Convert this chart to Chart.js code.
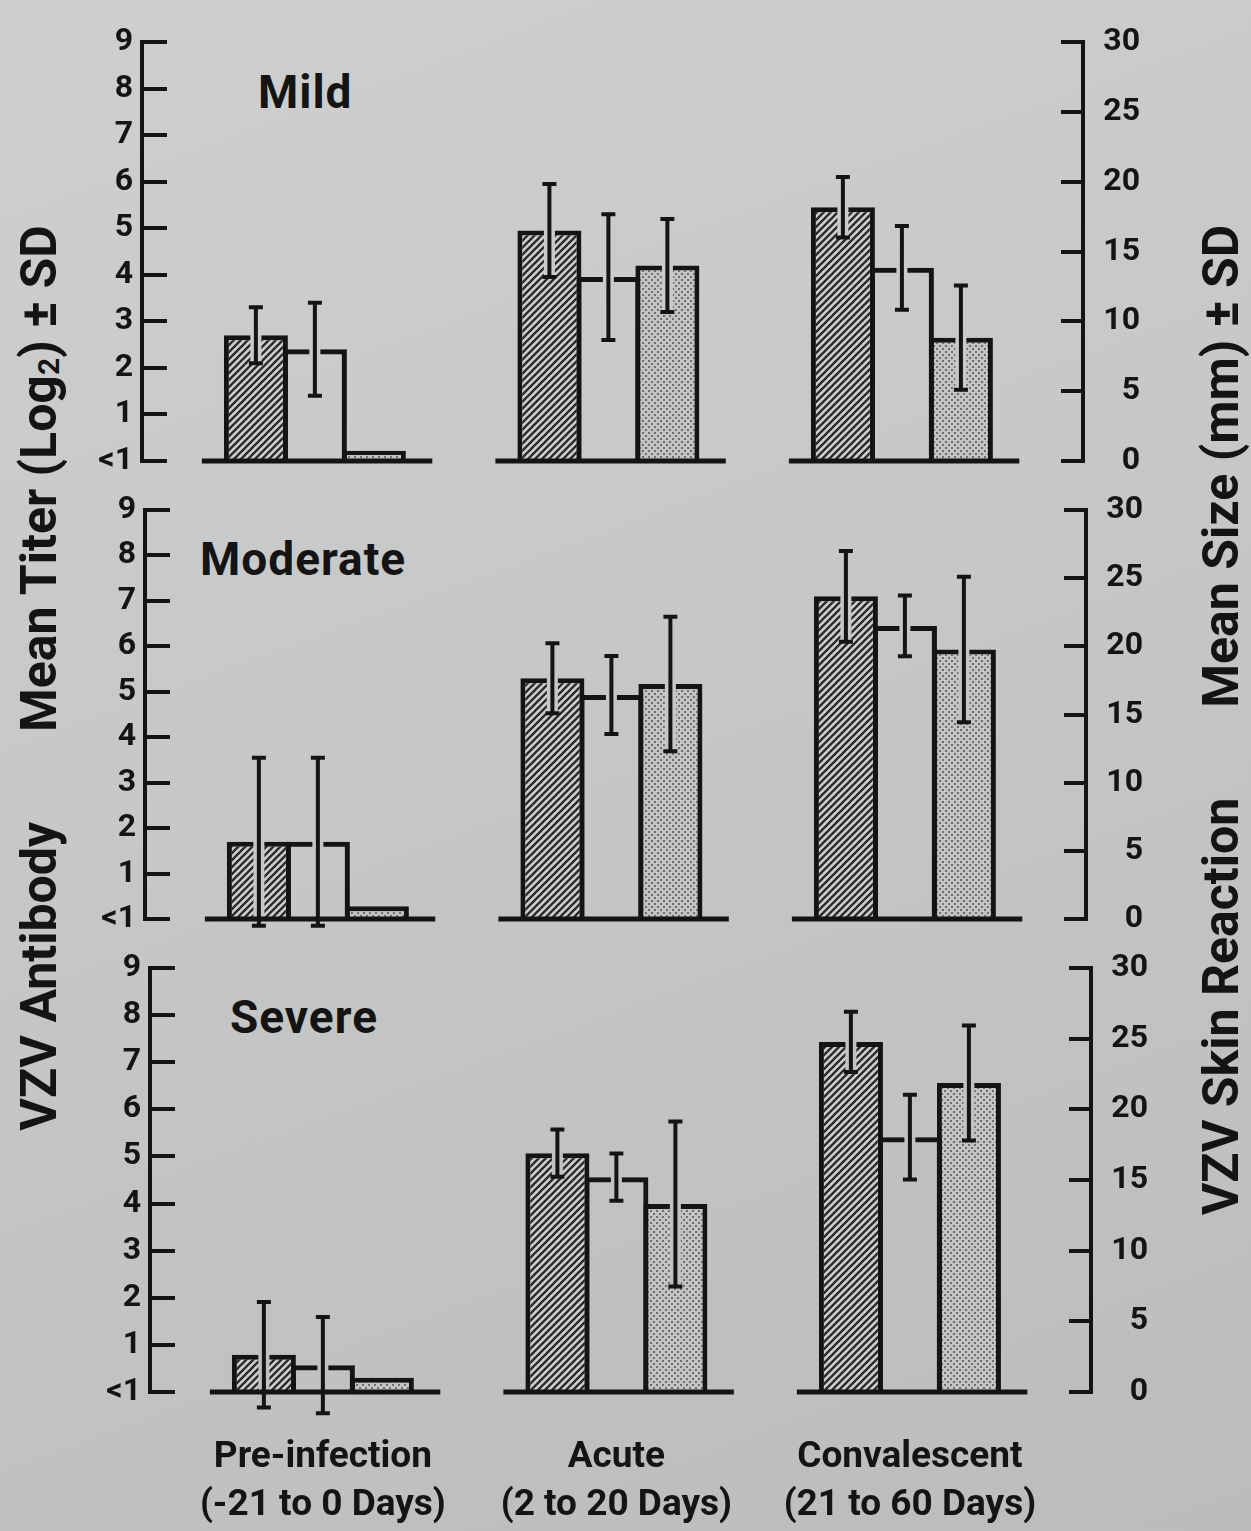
<!DOCTYPE html>
<html lang="en">
<head>
<meta charset="utf-8">
<title>VZV antibody titer and skin reaction by severity of varicella</title>
<script src="https://cdn.jsdelivr.net/npm/chart.js@4.4.1/dist/chart.umd.min.js"></script>
<style>
  html, body { margin: 0; padding: 0; }
  body {
    width: 1251px; height: 1531px; position: relative; overflow: hidden;
    background: linear-gradient(160deg, #cdd0ce 0%, #c5c8c6 45%, #babdbb 100%);
    font-family: Roboto, "DejaVu Sans", sans-serif; color: #141414;
  }
  canvas { position: absolute; }
  .severity {
    position: absolute; font-weight: 700; font-size: 46px; line-height: 46px;
    letter-spacing: 1px; white-space: nowrap;
  }
  .axis-title {
    position: absolute; font-weight: 700; font-size: 50px; line-height: 50px;
    white-space: nowrap; transform: translate(-50%, -50%) rotate(-90deg);
  }
  .axis-title .gap { display: inline-block; width: 90px; }
  .axis-title .sub { font-size: 0.6em; vertical-align: -0.12em; }
</style>
</head>
<body>
<div class="axis-title" style="left:44px; top:678px;">VZV Antibody<span class="gap"></span>Mean Titer (Log<span class="sub">2</span>) ± SD</div>
<div class="axis-title" style="left:1221px; top:720px;">VZV Skin Reaction<span class="gap"></span>Mean Size (mm) ± SD</div>
<script>
// ---- data -------------------------------------------------------------
const periodLabels = [
  ['Pre-infection', '(-21 to 0 Days)'],
  ['Acute', '(2 to 20 Days)'],
  ['Convalescent', '(21 to 60 Days)']
];
const severityTitles = ['Mild', 'Moderate', 'Severe'];
const titerTickLabels = ['<1', '1', '2', '3', '4', '5', '6', '7', '8', '9'];
const sizeTickLabels = ['0', '5', '10', '15', '20', '25', '30'];
const seriesNames = ['Bar 1', 'Bar 2', 'Bar 3'];

// means and SDs per period (pre-infection, acute, convalescent), left-axis units
const mildFirst = [2.7, 4.95, 5.45];      const mildFirstSD = [0.6, 1.0, 0.65];
const mildSecond = [2.4, 3.95, 4.15];     const mildSecondSD = [1.0, 1.35, 0.9];
const mildThird = [0.22, 4.2, 2.65];      const mildThirdSD = [null, 1.0, 1.12];

const moderateFirst = [1.7, 5.3, 7.1];    const moderateFirstSD = [1.85, 0.77, 1.0];
const moderateSecond = [1.7, 4.93, 6.45]; const moderateSecondSD = [1.85, 0.86, 0.67];
const moderateThird = [0.28, 5.17, 5.93]; const moderateThirdSD = [null, 1.48, 1.6];

const severeFirst = [0.79, 5.07, 7.43];   const severeFirstSD = [1.12, 0.5, 0.64];
const severeSecond = [0.57, 4.56, 5.41];  const severeSecondSD = [1.02, 0.5, 0.9];
const severeThird = [0.3, 3.99, 6.56];    const severeThirdSD = [null, 1.75, 1.22];

const panelMeans = [
  [mildFirst, mildSecond, mildThird],
  [moderateFirst, moderateSecond, moderateThird],
  [severeFirst, severeSecond, severeThird]
];
const panelSDs = [
  [mildFirstSD, mildSecondSD, mildThirdSD],
  [moderateFirstSD, moderateSecondSD, moderateThirdSD],
  [severeFirstSD, severeSecondSD, severeThirdSD]
];

// ---- layout -----------------------------------------------------------
const INK = '#141414';
const CANVAS_W = 1160;
const LEFT_AXIS_W = 142;
const RIGHT_LABEL_EDGE = 1140;
const RIGHT_AXIS_LINE = 1083;
const X_MIN = -0.589, X_MAX = 2.617;
const panelLayout = [
  { top: 0,   height: 480, shift: 0, areaTop: 42,  areaBottom: 461,  titleX: 258, titleY: 69 },
  { top: 480, height: 460, shift: 3, areaTop: 510, areaBottom: 919,  titleX: 200, titleY: 536 },
  { top: 940, height: 591, shift: 8, areaTop: 968, areaBottom: 1392, titleX: 230, titleY: 994 }
];

Chart.defaults.font.family = 'Roboto, "DejaVu Sans", sans-serif';

// diagonal hatching for the first bar of each group
function hatchPattern() {
  const n = 7;
  const c = document.createElement('canvas');
  c.width = n; c.height = n;
  const g = c.getContext('2d');
  g.fillStyle = '#cdcfcd'; g.fillRect(0, 0, n, n);
  g.strokeStyle = '#2a2a2a'; g.lineWidth = 2.3;
  g.beginPath();
  g.moveTo(0, n); g.lineTo(n, 0);
  g.moveTo(-n / 2, n / 2); g.lineTo(n / 2, -n / 2);
  g.moveTo(n / 2, n * 1.5); g.lineTo(n * 1.5, n / 2);
  g.stroke();
  return g.createPattern(c, 'repeat');
}

// fine stipple for the third bar of each group
function stipplePattern() {
  const c = document.createElement('canvas');
  c.width = 6; c.height = 6;
  const g = c.getContext('2d');
  g.fillStyle = '#c2c4c2'; g.fillRect(0, 0, 6, 6);
  g.fillStyle = '#6e706e';
  g.fillRect(0, 0, 2, 2); g.fillRect(3, 3, 2, 2);
  return g.createPattern(c, 'repeat');
}

// SD whiskers (with a knocked-out halo) and the baseline under each period group
const whiskerPlugin = {
  id: 'whiskers',
  afterDatasetsDraw(chart) {
    const ctx = chart.ctx;
    const xs = chart.scales.x, ys = chart.scales.y;
    const whiskers = [];
    chart.data.datasets.forEach((ds, di) => {
      const bars = chart.getDatasetMeta(di).data;
      ds.data.forEach((pt, j) => {
        const sd = ds.sd[j];
        if (sd == null) return;
        whiskers.push({
          x: bars[j].x,
          hi: ys.getPixelForValue(pt.y + sd),
          lo: ys.getPixelForValue(pt.y - sd)
        });
      });
    });

    ctx.save();
    ctx.globalCompositeOperation = 'destination-out';
    ctx.strokeStyle = '#000';
    ctx.lineWidth = 11;
    whiskers.forEach(w => {
      ctx.beginPath(); ctx.moveTo(w.x, w.hi); ctx.lineTo(w.x, w.lo); ctx.stroke();
    });
    ctx.restore();

    ctx.save();
    ctx.strokeStyle = INK;
    ctx.lineWidth = 5;
    const y0 = ys.getPixelForValue(0);
    periodLabels.forEach((_, j) => {
      ctx.beginPath();
      ctx.moveTo(xs.getPixelForValue(j - 0.385), y0);
      ctx.lineTo(xs.getPixelForValue(j + 0.40), y0);
      ctx.stroke();
    });

    ctx.lineWidth = 4;
    whiskers.forEach(w => {
      ctx.beginPath();
      ctx.moveTo(w.x, w.hi); ctx.lineTo(w.x, w.lo);
      ctx.moveTo(w.x - 7, w.hi); ctx.lineTo(w.x + 7, w.hi);
      ctx.moveTo(w.x - 7, w.lo); ctx.lineTo(w.x + 7, w.lo);
      ctx.stroke();
    });
    ctx.restore();
  }
};

// keep the plot area exactly where the layout puts it
function noScalePadding(s) {
  s.paddingTop = 0; s.paddingBottom = 0; s.paddingLeft = 0; s.paddingRight = 0;
}

const fills = [hatchPattern(), 'rgba(0,0,0,0)', stipplePattern()];

panelLayout.forEach((L, i) => {
  const isLast = i === panelLayout.length - 1;

  const title = document.createElement('div');
  title.className = 'severity';
  title.textContent = severityTitles[i];
  title.style.left = L.titleX + 'px';
  title.style.top = L.titleY + 'px';
  document.body.appendChild(title);

  const canvas = document.createElement('canvas');
  canvas.width = CANVAS_W;
  canvas.height = L.height;
  canvas.style.left = L.shift + 'px';
  canvas.style.top = L.top + 'px';
  document.body.appendChild(canvas);

  new Chart(canvas, {
    type: 'bar',
    data: {
      datasets: panelMeans[i].map((vals, k) => ({
        label: seriesNames[k],
        data: vals.map((v, j) => ({ x: j, y: v })),
        sd: panelSDs[i][k],
        xAxisID: 'x',
        yAxisID: 'y',
        backgroundColor: fills[k],
        borderColor: INK,
        borderWidth: 5,
        categoryPercentage: 0.603,
        barPercentage: 1.085
      }))
    },
    options: {
      responsive: false,
      animation: false,
      devicePixelRatio: 1,
      events: [],
      layout: {
        padding: {
          top: L.areaTop - L.top,
          bottom: isLast ? 0 : L.top + L.height - L.areaBottom,
          left: 0,
          right: CANVAS_W - RIGHT_LABEL_EDGE
        }
      },
      plugins: {
        legend: { display: false },
        tooltip: { enabled: false },
        title: { display: false }
      },
      scales: {
        x: {
          type: 'linear',
          min: X_MIN,
          max: X_MAX,
          offset: false,
          display: isLast,
          afterBuildTicks: s => { s.ticks = periodLabels.map((_, j) => ({ value: j })); },
          afterFit: s => {
            if (isLast) s.height = L.top + L.height - L.areaBottom;
            noScalePadding(s);
          },
          grid: { display: false, drawTicks: false, offset: false },
          border: { display: false },
          ticks: {
            autoSkip: false,
            maxRotation: 0,
            padding: 42,
            color: INK,
            font: { weight: 'bold', size: 37, lineHeight: 1.3 },
            callback: v => periodLabels[v]
          }
        },
        y: {
          position: 'left',
          min: 0,
          max: 9,
          afterFit: s => { s.width = LEFT_AXIS_W; noScalePadding(s); },
          grid: { drawOnChartArea: false, drawTicks: true, tickLength: -25, lineWidth: 4, color: INK },
          border: { display: true, width: 4, color: INK },
          ticks: {
            stepSize: 1,
            padding: 34,
            color: INK,
            font: { weight: 'bold', size: 32 },
            callback: v => titerTickLabels[v]
          }
        },
        y2: {
          position: 'right',
          min: 0,
          max: 30,
          afterFit: s => { s.width = RIGHT_LABEL_EDGE - RIGHT_AXIS_LINE; noScalePadding(s); },
          grid: { drawOnChartArea: false, drawTicks: true, tickLength: -22, lineWidth: 4, color: INK },
          border: { display: true, width: 4, color: INK },
          ticks: {
            stepSize: 5,
            padding: 30,
            crossAlign: 'far',
            color: INK,
            font: { weight: 'bold', size: 32 },
            callback: v => sizeTickLabels[v / 5]
          }
        }
      }
    },
    plugins: [whiskerPlugin]
  });
});
</script>
</body>
</html>
